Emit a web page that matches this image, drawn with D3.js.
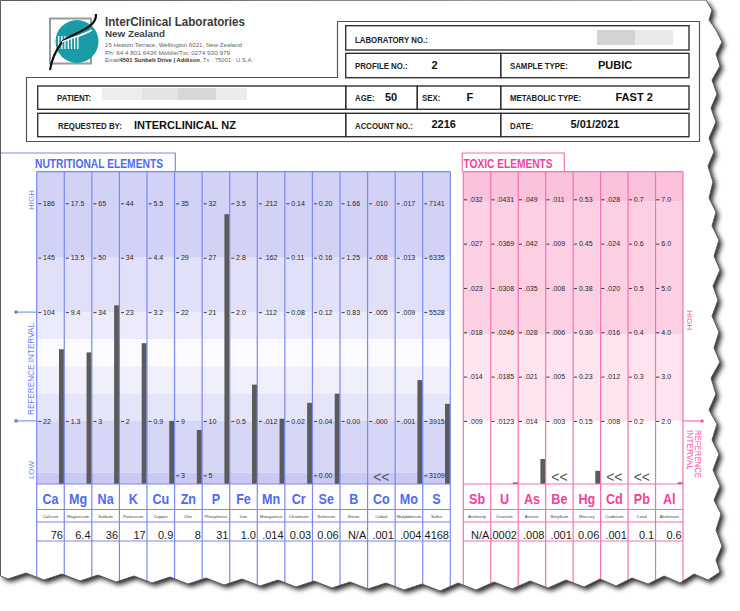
<!DOCTYPE html>
<html><head><meta charset="utf-8">
<script src="https://cdn.jsdelivr.net/npm/d3@7"></script>
<style>html,body{margin:0;padding:0;background:#fff;}svg{display:block;}</style>
</head><body>
<svg id="c" width="740" height="611"></svg>
<script>
// ---------------- DATA ----------------
const nutriSymbols = ["Ca","Mg","Na","K","Cu","Zn","P","Fe","Mn","Cr","Se","B","Co","Mo","S"];
const nutriNames = ["Calcium","Magnesium","Sodium","Potassium","Copper","Zinc","Phosphorus","Iron","Manganese","Chromium","Selenium","Boron","Cobalt","Molybdenum","Sulfur"];
const nutriValues = [76, 6.4, 36, 17, 0.9, 8, 31, 1.0, 0.014, 0.03, 0.06, null, 0.001, 0.004, 4168];
const nutriValueLabels = ["76","6.4","36","17","0.9","8","31","1.0",".014","0.03","0.06","N/A",".001",".004","4168"];
const nutriTickValues = [
  [186,145,104,22],[17.5,13.5,9.4,1.3],[65,50,34,3],[44,34,23,2],[5.5,4.4,3.2,0.9],
  [35,29,22,9,3],[32,27,21,10,5],[3.5,2.8,2.0,0.5],[0.212,0.162,0.112,0.012],[0.14,0.11,0.08,0.02],
  [0.20,0.16,0.12,0.04,0.00],[1.66,1.25,0.83,0.00],[0.010,0.008,0.005,0.000],[0.017,0.013,0.009,0.001],
  [7141,6335,5528,3915,3109]];
const nutriTickLabels = [
  ["186","145","104","22"],["17.5","13.5","9.4","1.3"],["65","50","34","3"],["44","34","23","2"],["5.5","4.4","3.2","0.9"],
  ["35","29","22","9","3"],["32","27","21","10","5"],["3.5","2.8","2.0","0.5"],[".212",".162",".112",".012"],["0.14","0.11","0.08","0.02"],
  ["0.20","0.16","0.12","0.04","0.00"],["1.66","1.25","0.83","0.00"],[".010",".008",".005",".000"],[".017",".013",".009",".001"],
  ["7141","6335","5528","3915","3109"]];
const nutriBelowLimit = ["Co"];

const toxicSymbols = ["Sb","U","As","Be","Hg","Cd","Pb","Al"];
const toxicNames = ["Antimony","Uranium","Arsenic","Beryllium","Mercury","Cadmium","Lead","Aluminum"];
const toxicValues = [null, 0.0002, 0.008, 0.001, 0.06, 0.001, 0.1, 0.6];
const toxicValueLabels = ["N/A",".0002",".008",".001","0.06",".001","0.1","0.6"];
const toxicTickValues = [
  [0.032,0.027,0.023,0.018,0.014,0.009],[0.0431,0.0369,0.0308,0.0246,0.0185,0.0123],
  [0.049,0.042,0.035,0.028,0.021,0.014],[0.011,0.009,0.008,0.006,0.005,0.003],
  [0.53,0.45,0.38,0.30,0.23,0.15],[0.028,0.024,0.020,0.016,0.012,0.008],
  [0.7,0.6,0.5,0.4,0.3,0.2],[7.0,6.0,5.0,4.0,3.0,2.0]];
const toxicTickLabels = [
  [".032",".027",".023",".018",".014",".009"],[".0431",".0369",".0308",".0246",".0185",".0123"],
  [".049",".042",".035",".028",".021",".014"],[".011",".009",".008",".006",".005",".003"],
  ["0.53","0.45","0.38","0.30","0.23","0.15"],[".028",".024",".020",".016",".012",".008"],
  ["0.7","0.6","0.5","0.4","0.3","0.2"],["7.0","6.0","5.0","4.0","3.0","2.0"]];
const toxicBelowLimit = ["Be","Cd","Pb"];

const headerFields = [
  {label:"LABORATORY NO.:", value:""},
  {label:"PROFILE NO.:", value:"2"},
  {label:"SAMPLE TYPE:", value:"PUBIC"},
  {label:"PATIENT:", value:""},
  {label:"AGE:", value:"50"},
  {label:"SEX:", value:"F"},
  {label:"METABOLIC TYPE:", value:"FAST 2"},
  {label:"REQUESTED BY:", value:"INTERCLINICAL NZ"},
  {label:"ACCOUNT NO.:", value:"2216"},
  {label:"DATE:", value:"5/01/2021"}
];

// ---------------- SETUP ----------------
const SANS = "'Liberation Sans',Arial,sans-serif";
const NARROW_SCALE = 0.8;
const svg = d3.select("#c");
const defs = svg.append("defs");
const flt = defs.append("filter").attr("id","shadow").attr("x","-10%").attr("y","-10%").attr("width","125%").attr("height","125%");
flt.append("feDropShadow").attr("dx",3).attr("dy",3).attr("stdDeviation",2.4).attr("flood-color","#000").attr("flood-opacity",0.85);

const tearRight = [[706,0],[712,10],[709,20],[716,30],[722,42],[716,54],[720,66],[712,80],[717,94],[711,108],[716,122],[709,138],[714,152],[708,166],[713,182],[709,198],[716,212],[712,226],[719,240],[714,256],[720,270],[713,286],[718,300],[712,316],[719,332],[714,348],[720,362],[711,378],[716,394],[709,410],[717,424],[712,440],[719,454],[713,470],[720,486],[714,500],[721,514],[716,530],[722,546],[716,560],[720,572]];
const tearBottom = [[708,580],[694,574],[680,583],[664,576],[648,584],[632,578],[616,586],[600,579],[584,587],[566,580],[548,588],[530,581],[512,589],[494,582],[476,590],[458,583],[440,591],[422,584],[404,590],[386,583],[368,589],[350,582],[332,588],[314,581],[296,587],[278,580],[260,586],[242,579],[224,585],[206,578],[188,584],[170,577],[152,583],[134,576],[116,582],[98,575],[80,581],[62,574],[44,580],[26,573],[8,579],[0.5,576]];
const pagePts = [[0.5,0.5]].concat(tearRight, tearBottom);
const pageD = d3.line()(pagePts) + "Z";
defs.append("clipPath").attr("id","pageclip").append("path").attr("d", pageD);
svg.append("path").attr("d", pageD).attr("fill","#fff").attr("filter","url(#shadow)");
const g = svg.append("g").attr("clip-path","url(#pageclip)");

// ---------------- HEADER ----------------
const H = g.append("g");
// logo
const logo = H.append("g");
logo.append("rect").attr("x",50).attr("y",18.5).attr("width",41).attr("height",45).attr("fill","#fff").attr("stroke","#9a9a9a").attr("stroke-width",2);
logo.append("circle").attr("cx",77).attr("cy",41.5).attr("r",21.5).attr("fill","#1b9ba6");
for (let i=0;i<7;i++){
  logo.append("rect").attr("x",58+i*3.2).attr("y",36).attr("width",1.3).attr("height",13).attr("fill","#fff");
}
logo.append("path").attr("d","M96,14 C97,30 70,33 62,42 C56,50 52,58 50,70").attr("fill","none").attr("stroke","#111").attr("stroke-width",2.2);
logo.append("path").attr("d","M62,42 C70,38 82,36 92,30").attr("fill","none").attr("stroke","#fff").attr("stroke-width",1.5);
H.append("text").attr("x",105).attr("y",25.5).attr("font-family",SANS).attr("font-weight","bold").attr("font-size",13.5).attr("fill","#3a3a3a")
  .attr("textLength",140).attr("lengthAdjust","spacingAndGlyphs").text("InterClinical Laboratories");
H.append("text").attr("x",105).attr("y",37).attr("font-family",SANS).attr("font-weight","bold").attr("font-size",9.8).attr("fill","#444")
  .attr("textLength",60).attr("lengthAdjust","spacingAndGlyphs").text("New Zealand");
H.append("text").attr("x",105).attr("y",47).attr("font-family",SANS).attr("font-size",5.4).attr("fill","#666")
  .attr("textLength",137).attr("lengthAdjust","spacingAndGlyphs").text("15 Heaton Terrace, Wellington 6021, New Zealand");
H.append("text").attr("x",105).attr("y",54.5).attr("font-family",SANS).attr("font-size",5.4).attr("fill","#666")
  .attr("textLength",125).attr("lengthAdjust","spacingAndGlyphs").text("Ph: 64 4 801 6436  Mobile/Txt: 0274 930 979");
const em = H.append("text").attr("x",105).attr("y",62).attr("font-family",SANS).attr("font-size",5.4).attr("fill","#666")
  .attr("textLength",148).attr("lengthAdjust","spacingAndGlyphs");
em.append("tspan").text("Email");
em.append("tspan").attr("font-weight","bold").attr("fill","#333").text("4501 Sunbelt Drive | Addison");
em.append("tspan").text(", Tx · 75001 · U.S.A.");

// outer frame
H.append("path").attr("d","M337.5,21.5H699.5V141.5H26.5V77.5H337.5Z").attr("fill","none").attr("stroke","#555").attr("stroke-width",1.2);
const boxes = [
  [345.7,25.7,343.3,24.3],[345.7,53.3,155,24.4],[500.7,53.3,188.3,24.4],
  [37.7,86,308,23.3],[345.7,86,71.6,23.3],[417.3,86,83.4,23.3],[500.7,86,188.3,23.3],
  [37.7,113.3,308,23.4],[345.7,113.3,155,23.4],[500.7,113.3,188.3,23.4]];
H.selectAll("rect.box").data(boxes).join("rect").attr("class","box")
  .attr("x",d=>d[0]).attr("y",d=>d[1]).attr("width",d=>d[2]).attr("height",d=>d[3])
  .attr("fill","none").attr("stroke","#333").attr("stroke-width",1.4);
// blurred blocks
[[597,30,38,15,"#d3d3d3"],[635,30,38,15,"#e9e9e9"],[102,88,40,12,"#ededed"],[142,88,36,12,"#e3e3e3"],[178,88,38,12,"#d7d7d7"],[216,88,31,12,"#ececec"]]
  .forEach(b=>H.append("rect").attr("x",b[0]).attr("y",b[1]).attr("width",b[2]).attr("height",b[3]).attr("fill",b[4]));
const labelPos = [[355,42.5],[355,69],[510,69],[57,101],[355,101],[422,101],[510,101],[58,129],[355,128.5],[510,128.5]];
const valuePos = [null,[431.5,68.5],[598,68.5],null,[385,100.5],[466.5,100.5],[615.5,100.5],[134,128.5],[431.5,128],[570.5,128]];
headerFields.forEach((f,i)=>{
  H.append("text").attr("transform",`translate(${labelPos[i][0]},${labelPos[i][1]}) scale(${NARROW_SCALE},1)`)
    .attr("font-family",SANS).attr("font-weight","bold")
    .attr("font-size",9.8).attr("fill","#222").text(f.label);
  if (f.value) H.append("text").attr("x",valuePos[i][0]).attr("y",valuePos[i][1]).attr("font-family",SANS).attr("font-weight","bold")
    .attr("font-size",11).attr("fill","#111").text(f.value);
});

// ---------------- CHART PANELS ----------------
const panelTop = 171.7, baseline = 484, rowY = [484, 509.5, 522, 541], panelBottom = 610;

function drawPanel(cfg){
  const P = g.append("g");
  const x = d3.scaleBand().domain(cfg.symbols).range(cfg.xRange).paddingInner(0).paddingOuter(0);
  const lvl = d3.scaleLinear().domain([0,1]).range([cfg.level0, cfg.level0 + cfg.step]);
  const rows = cfg.symbols.map((s,i)=>{
    const ticks = cfg.ticks[i];
    const levels = cfg.levels.slice(0, ticks.length);
    return {sym:s, name:cfg.names[i], value:cfg.values[i], label:cfg.valueLabels[i], ticks, tickLabels:cfg.tickLabels[i],
      y: d3.scaleLinear().domain(ticks).range(levels.map(lvl)), below: cfg.below.includes(s)};
  });
  // bands
  P.selectAll("rect.band").data(cfg.bands).join("rect").attr("class","band")
    .attr("x",cfg.xRange[0]).attr("width",cfg.xRange[1]-cfg.xRange[0])
    .attr("y",d=>d[0]==null?panelTop:lvl(d[0])).attr("height",d=>(d[1]==null?baseline:lvl(d[1]))-(d[0]==null?panelTop:lvl(d[0])))
    .attr("fill",d=>d[2]);
  // bars
  P.selectAll("rect.bar").data(rows.filter(r=>r.value!=null && !r.below)).join("rect").attr("class","bar")
    .attr("x",r=>x(r.sym)+x.bandwidth()-5.3).attr("width",5)
    .attr("y",r=>Math.min(r.y(r.value), baseline-1.6))
    .attr("height",r=>baseline-Math.min(r.y(r.value), baseline-1.6))
    .attr("fill","#5b5b5b");
  // below-limit markers
  P.selectAll("text.below").data(rows.filter(r=>r.below)).join("text").attr("class","below")
    .attr("x",r=>x(r.sym)+x.bandwidth()/2).attr("y",481.5).attr("text-anchor","middle")
    .attr("font-family",SANS).attr("font-size",14).attr("fill","#555").text("<<");
  // per-element axes
  rows.forEach(r=>{
    const ax = d3.axisRight(r.y).tickValues(r.ticks).tickFormat(d=>r.tickLabels[r.ticks.indexOf(d)])
      .tickSize(cfg.tickSize).tickPadding(cfg.tickPad);
    const a = P.append("g").attr("transform",`translate(${x(r.sym)+cfg.axisOff},0)`).call(ax);
    a.select(".domain").remove();
    a.attr("font-family",SANS).attr("font-size",7).attr("color","#2a2a2a");
    a.selectAll("line").attr("stroke-width",0.9);
  });
  // grid lines
  const xs = cfg.symbols.map(s=>x(s)).concat([cfg.xRange[1]]);
  P.selectAll("line.v").data(xs).join("line").attr("class","v")
    .attr("x1",d=>d).attr("x2",d=>d).attr("y1",panelTop).attr("y2",panelBottom)
    .attr("stroke",cfg.line).attr("stroke-width",1.2);
  P.selectAll("line.h").data([panelTop].concat(rowY)).join("line").attr("class","h")
    .attr("x1",cfg.xRange[0]).attr("x2",cfg.xRange[1]).attr("y1",d=>d).attr("y2",d=>d)
    .attr("stroke",cfg.line).attr("stroke-width",1.2);
  // symbol / name / value rows
  P.selectAll("text.sym").data(rows).join("text").attr("class","sym")
    .attr("transform",r=>`translate(${x(r.sym)+x.bandwidth()/2},503.5) scale(0.84,1)`).attr("text-anchor","middle")
    .attr("font-family",SANS).attr("font-weight","bold").attr("font-size",15).attr("fill",cfg.symColor).text(r=>r.sym);
  P.selectAll("text.nm").data(rows).join("text").attr("class","nm")
    .attr("x",r=>x(r.sym)+x.bandwidth()/2).attr("y",517.8).attr("text-anchor","middle")
    .attr("font-family",SANS).attr("font-size",4.3).attr("fill","#444").text(r=>r.name);
  P.selectAll("text.val").data(rows).join("text").attr("class","val")
    .attr("x",r=>x(r.sym)+x.bandwidth()-1.3).attr("y",539).attr("text-anchor","end")
    .attr("font-family",SANS).attr("font-size",11).attr("fill","#1a1a1a").text(r=>r.label);
  // tab
  P.append("path").attr("d",cfg.tab).attr("fill","none").attr("stroke",cfg.line).attr("stroke-width",1.2);
  P.append("text").attr("x",cfg.titleX).attr("y",167.8).attr("font-family",SANS).attr("font-weight","bold")
    .attr("font-size",12).attr("fill",cfg.symColor).attr("textLength",cfg.titleLen).attr("lengthAdjust","spacingAndGlyphs").text(cfg.title);
  return {P, lvl};
}

const left = drawPanel({
  symbols:nutriSymbols, names:nutriNames, values:nutriValues, valueLabels:nutriValueLabels,
  ticks:nutriTickValues, tickLabels:nutriTickLabels, below:nutriBelowLimit,
  xRange:[36.7,450.3], level0:203.3, step:54.4, levels:[0,1,2,4,5],
  bands:[[null,1,"#d2d2f6"],[1,2,"#e0e0f9"],[2,2.5,"#ebebfb"],[2.5,3,"#fbfbff"],[3,3.5,"#f0f0fc"],[3.5,4,"#e5e5f9"],[4,4.95,"#d6d6f6"],[4.95,null,"#c9c9f3"]],
  axisOff:1.6, tickSize:3, tickPad:1.8, line:"#7d88f0", symColor:"#4d6bf2",
  tab:"M0,153H175.3V171.7", title:"NUTRITIONAL  ELEMENTS", titleX:35, titleLen:128
});
const right = drawPanel({
  symbols:toxicSymbols, names:toxicNames, values:toxicValues, valueLabels:toxicValueLabels,
  ticks:toxicTickValues, tickLabels:toxicTickLabels, below:toxicBelowLimit,
  xRange:[463.3,683], level0:199.3, step:44.33, levels:[0,1,2,3,4,5],
  bands:[[null,0.05,"#fbc2db"],[0.05,3.05,"#fccfe3"],[3.05,5,"#fde4ef"],[5,null,"#ffffff"]],
  axisOff:0.5, tickSize:3.3, tickPad:2, line:"#f472b4", symColor:"#f0429b",
  tab:"M462.3,171.7V153H564.3V171.7", title:"TOXIC  ELEMENTS", titleX:463.5, titleLen:89
});

// side labels - left
const LB = "#6d7ff0";
const sl = g.append("g").attr("font-family",SANS).attr("fill",LB);
sl.append("text").attr("transform","translate(34,200) rotate(-90)").attr("text-anchor","middle").attr("font-size",8).text("HIGH");
sl.append("text").attr("transform","translate(34,369) rotate(-90)").attr("text-anchor","middle").attr("font-size",8.5)
  .attr("textLength",92).attr("lengthAdjust","spacingAndGlyphs").text("REFERENCE INTERVAL");
sl.append("text").attr("transform","translate(34,470) rotate(-90)").attr("text-anchor","middle").attr("font-size",8).text("LOW");
[2,4].forEach(l=>{
  const y = left.lvl(l);
  sl.append("line").attr("x1",16).attr("x2",36.7).attr("y1",y).attr("y2",y).attr("stroke",LB).attr("stroke-width",1);
  sl.append("circle").attr("cx",16).attr("cy",y).attr("r",1.8).attr("fill",LB);
});
// side labels - right
const RP = "#f25aa8";
const sr = g.append("g").attr("font-family",SANS).attr("fill",RP);
sr.append("text").attr("transform","translate(686.5,320) rotate(90)").attr("text-anchor","middle").attr("font-size",8).text("HIGH");
const ry = right.lvl(5);
sr.append("line").attr("x1",683).attr("x2",702).attr("y1",ry).attr("y2",ry).attr("stroke",RP).attr("stroke-width",1);
sr.append("circle").attr("cx",702).attr("cy",ry).attr("r",1.8).attr("fill",RP);
sr.append("text").attr("transform","translate(695,430) rotate(90)").attr("font-size",8.2).attr("textLength",48).attr("lengthAdjust","spacingAndGlyphs").text("REFERENCE");
sr.append("text").attr("transform","translate(686.5,430) rotate(90)").attr("font-size",8.2).attr("textLength",40).attr("lengthAdjust","spacingAndGlyphs").text("INTERVAL");

// page edge line
svg.append("path").attr("d", pageD).attr("fill","none").attr("stroke","#333").attr("stroke-width",0.8);
</script>
</body></html>
